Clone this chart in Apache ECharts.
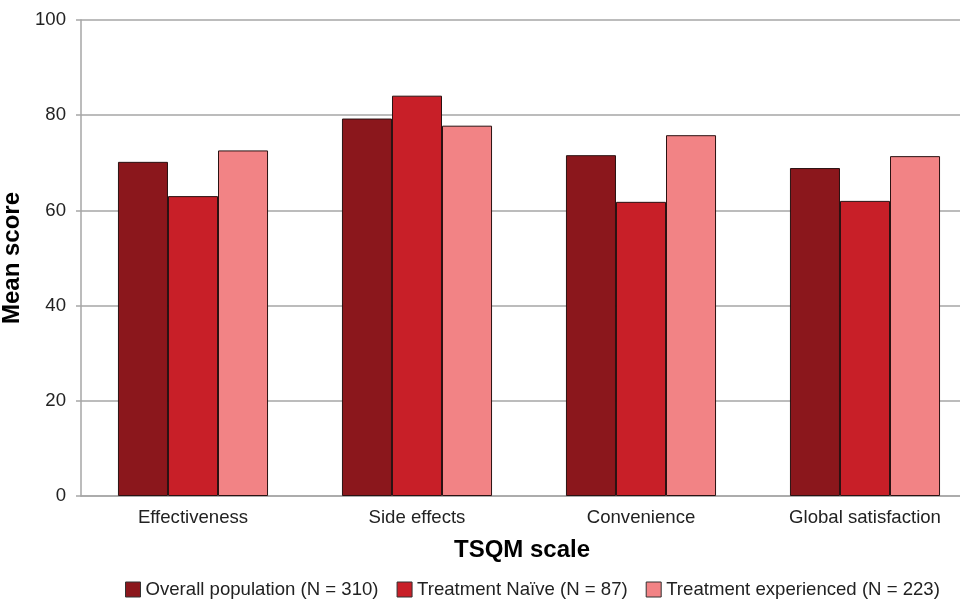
<!DOCTYPE html>
<html>
<head>
<meta charset="utf-8">
<script src="https://cdn.jsdelivr.net/npm/echarts@6/dist/echarts.min.js"></script>
<style>
  html, body { margin: 0; padding: 0; background: #fff; }
  #main { width: 960px; height: 599px; }
</style>
</head>
<body>
<div id="main"></div>
<script>
// TSQM scale categories
var categories = ['Effectiveness', 'Side effects', 'Convenience', 'Global satisfaction'];

// mean scores per group
var overallPopulation = [70.2, 79.3, 71.6, 68.9];
var treatmentNaive = [63.0, 84.1, 61.8, 62.0];
var treatmentExperienced = [72.6, 77.8, 75.8, 71.4];

var seriesNames = ['Overall population (N = 310)', 'Treatment Naïve (N = 87)', 'Treatment experienced (N = 223)'];
var seriesColors = ['#8b171c', '#c81f28', '#f28385'];

var yTicks = [0, 20, 40, 60, 80, 100];

var myChart = echarts.init(document.getElementById('main'));

var font = 'Liberation Sans, Arial, sans-serif';
var gray = '#a6a6a6';

function makeSeries(name, data, color) {
    return {
        name: name,
        type: 'bar',
        data: data,
        barGap: '0%',
        barCategoryGap: '33%',
        itemStyle: {
            color: color,
            borderColor: '#2a1212',
            borderWidth: 1
        },
        emphasis: { disabled: true }
    };
}

var option = {
    animation: false,
    backgroundColor: '#fff',
    grid: {
        left: 81,
        top: 20,
        width: 896,
        height: 476,
        containLabel: false,
        outerBoundsMode: 'none'
    },
    legend: {
        top: 575,
        left: 120,
        icon: 'rect',
        itemWidth: 15,
        itemHeight: 15,
        itemGap: 18,
        data: seriesNames,
        textStyle: { fontFamily: font, fontSize: 18.6, color: '#222' },
        itemStyle: { borderColor: '#333', borderWidth: 1 }
    },
    xAxis: {
        type: 'category',
        data: categories,
        name: 'TSQM scale',
        nameLocation: 'middle',
        nameGap: 42,
        nameTextStyle: {
            fontFamily: font, fontSize: 24, fontWeight: 'bold', color: '#000',
            padding: [0, 14, 0, 0]
        },
        axisLine: { lineStyle: { color: gray, width: 1.5 } },
        axisTick: { show: false },
        axisLabel: { fontFamily: font, fontSize: 18.6, color: '#222', margin: 12 }
    },
    yAxis: {
        type: 'value',
        min: yTicks[0],
        max: yTicks[yTicks.length - 1],
        interval: 20,
        name: 'Mean score',
        nameLocation: 'middle',
        nameGap: 52,
        nameTextStyle: { fontFamily: font, fontSize: 24, fontWeight: 'bold', color: '#000' },
        axisLine: { show: true, lineStyle: { color: gray, width: 1.5 } },
        axisTick: { show: true, length: 5, lineStyle: { color: gray, width: 1.5 } },
        axisLabel: { fontFamily: font, fontSize: 18.6, color: '#222', margin: 15 },
        splitLine: { lineStyle: { color: gray, width: 1.5 } }
    },
    series: [
        makeSeries(seriesNames[0], overallPopulation, seriesColors[0]),
        makeSeries(seriesNames[1], treatmentNaive, seriesColors[1]),
        makeSeries(seriesNames[2], treatmentExperienced, seriesColors[2])
    ]
};

myChart.setOption(option);
</script>
</body>
</html>
